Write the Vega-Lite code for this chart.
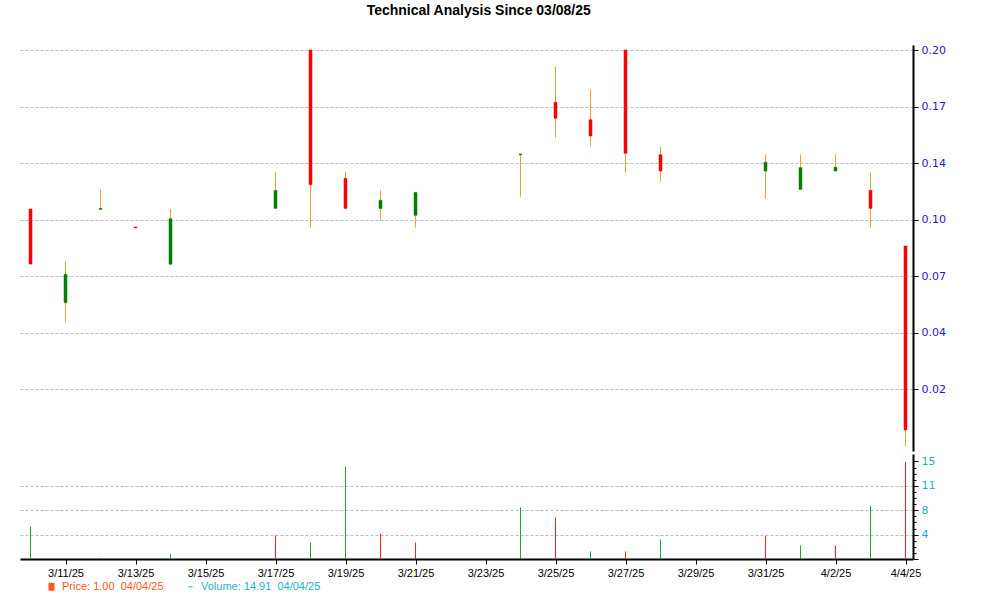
{
  "$schema": "https://vega.github.io/schema/vega-lite/v6.json",
  "background": "white",
  "padding": {"left": 20, "top": 4, "right": 0, "bottom": 0},
  "title": {"text": "Technical Analysis Since 03/08/25", "font": "Liberation Sans", "fontSize": 14, "fontWeight": "bold", "color": "#000000", "anchor": "middle", "offset": 26, "dx": -4},
  "datasets": {
    "candles": [
      {"date": "2025-03-10", "open": 0.1197, "close": 0.0919, "high": 0.1197, "low": 0.0919, "dir": "down"},
      {"date": "2025-03-11", "open": 0.0724, "close": 0.0867, "high": 0.0934, "low": 0.0623, "dir": "up"},
      {"date": "2025-03-12", "open": 0.1195, "close": 0.1200, "high": 0.1293, "low": 0.1195, "dir": "up"},
      {"date": "2025-03-13", "open": 0.1106, "close": 0.1101, "high": 0.1106, "low": 0.1101, "dir": "down"},
      {"date": "2025-03-14", "open": 0.0918, "close": 0.1148, "high": 0.1197, "low": 0.0918, "dir": "up"},
      {"date": "2025-03-17", "open": 0.1200, "close": 0.1291, "high": 0.1384, "low": 0.1200, "dir": "up"},
      {"date": "2025-03-18", "open": 0.2000, "close": 0.1320, "high": 0.2000, "low": 0.1103, "dir": "down"},
      {"date": "2025-03-19", "open": 0.1352, "close": 0.1200, "high": 0.1384, "low": 0.1200, "dir": "down"},
      {"date": "2025-03-20", "open": 0.1200, "close": 0.1241, "high": 0.1291, "low": 0.1140, "dir": "up"},
      {"date": "2025-03-21", "open": 0.1165, "close": 0.1281, "high": 0.1281, "low": 0.1103, "dir": "up"},
      {"date": "2025-03-24", "open": 0.1471, "close": 0.1475, "high": 0.1475, "low": 0.1259, "dir": "up"},
      {"date": "2025-03-25", "open": 0.1736, "close": 0.1655, "high": 0.1914, "low": 0.1557, "dir": "down"},
      {"date": "2025-03-26", "open": 0.1648, "close": 0.1566, "high": 0.1801, "low": 0.1512, "dir": "down"},
      {"date": "2025-03-27", "open": 0.2000, "close": 0.1478, "high": 0.2000, "low": 0.1380, "dir": "down"},
      {"date": "2025-03-28", "open": 0.1471, "close": 0.1389, "high": 0.1510, "low": 0.1335, "dir": "down"},
      {"date": "2025-03-31", "open": 0.1389, "close": 0.1433, "high": 0.1473, "low": 0.1249, "dir": "up"},
      {"date": "2025-04-01", "open": 0.1296, "close": 0.1406, "high": 0.1473, "low": 0.1296, "dir": "up"},
      {"date": "2025-04-02", "open": 0.1389, "close": 0.1408, "high": 0.1473, "low": 0.1389, "dir": "up"},
      {"date": "2025-04-03", "open": 0.1291, "close": 0.1200, "high": 0.1382, "low": 0.1103, "dir": "down"},
      {"date": "2025-04-04", "open": 0.1010, "close": 0.0081, "high": 0.1010, "low": 0.0, "dir": "down"}
    ],
    "volume": [
      {"date": "2025-03-10", "volume": 5.0, "dir": "up"},
      {"date": "2025-03-12", "volume": 0.15, "dir": "down"},
      {"date": "2025-03-14", "volume": 0.8, "dir": "up"},
      {"date": "2025-03-17", "volume": 3.6, "dir": "down"},
      {"date": "2025-03-18", "volume": 2.54, "dir": "up"},
      {"date": "2025-03-19", "volume": 14.2, "dir": "up"},
      {"date": "2025-03-20", "volume": 3.92, "dir": "down"},
      {"date": "2025-03-21", "volume": 2.54, "dir": "down"},
      {"date": "2025-03-24", "volume": 7.92, "dir": "up"},
      {"date": "2025-03-25", "volume": 6.38, "dir": "down"},
      {"date": "2025-03-26", "volume": 1.15, "dir": "up"},
      {"date": "2025-03-27", "volume": 1.15, "dir": "down"},
      {"date": "2025-03-28", "volume": 3.0, "dir": "up"},
      {"date": "2025-03-31", "volume": 3.57, "dir": "down"},
      {"date": "2025-04-01", "volume": 2.08, "dir": "up"},
      {"date": "2025-04-02", "volume": 2.08, "dir": "down"},
      {"date": "2025-04-03", "volume": 8.23, "dir": "up"},
      {"date": "2025-04-04", "volume": 14.91, "dir": "down"}
    ],
    "legend": [
      {"series": "Price: 1.00\u00a0 04/04/25"},
      {"series": "Volume: 14.91\u00a0 04/04/25"}
    ]
  },
  "spacing": 3,
  "vconcat": [
    {
      "width": 893,
      "height": 406,
      "data": {"name": "candles"},
      "encoding": {
        "x": {
          "field": "date", "type": "temporal",
          "scale": {"type": "utc", "padding": 0, "domain": [
            {"year": 2025, "month": 3, "date": 9, "hours": 16, "minutes": 48, "seconds": 0, "utc": true},
            {"year": 2025, "month": 4, "date": 4, "hours": 5, "minutes": 8, "seconds": 34, "utc": true}
          ]},
          "axis": null
        }
      },
      "layer": [
        {
          "mark": {"type": "rule", "color": "#f0a035", "strokeWidth": 1},
          "encoding": {
            "y": {
              "field": "low", "type": "quantitative",
              "scale": {"domain": [-0.00253, 0.20253], "nice": false, "zero": false},
              "axis": {
                "orient": "right",
                "values": [0.0285714, 0.0571429, 0.0857143, 0.1142857, 0.1428571, 0.1714286, 0.2],
                "labelExpr": "['','0.02','0.04','0.07','0.10','0.14','0.17','0.20'][round(datum.value*35)]",
                "title": null,
                "grid": true, "gridColor": "#bbbbbb", "gridDash": [3, 2], "gridWidth": 1,
                "domain": true, "domainColor": "#000000", "domainWidth": 2,
                "ticks": true, "tickColor": "#000000", "tickSize": 5, "tickWidth": 1,
                "labelFont": "DejaVu Sans", "labelFontSize": 11, "labelColor": "#3311cc", "labelPadding": 3
              }
            },
            "y2": {"field": "high"}
          }
        },
        {
          "mark": {"type": "bar", "size": 3, "strokeWidth": 1, "strokeOpacity": 0.5},
          "encoding": {
            "y": {"field": "open", "type": "quantitative"},
            "y2": {"field": "close"},
            "color": {"field": "dir", "type": "nominal", "scale": {"domain": ["up", "down"], "range": ["#008000", "#ff0000"]}, "legend": null},
            "stroke": {"field": "dir", "type": "nominal", "scale": {"domain": ["up", "down"], "range": ["#008000", "#ff0000"]}, "legend": null}
          }
        }
      ]
    },
    {
      "width": 893,
      "height": 105,
      "layer": [
        {
          "data": {"name": "volume"},
          "mark": {"type": "bar", "size": 1},
          "encoding": {
            "x": {
              "field": "date", "type": "temporal",
              "scale": {"type": "utc", "padding": 0, "domain": [
                {"year": 2025, "month": 3, "date": 9, "hours": 16, "minutes": 48, "seconds": 0, "utc": true},
                {"year": 2025, "month": 4, "date": 4, "hours": 5, "minutes": 8, "seconds": 34, "utc": true}
              ]},
              "axis": {
                "title": null,
                "values": [
                  {"year": 2025, "month": 3, "date": 11, "utc": true},
                  {"year": 2025, "month": 3, "date": 13, "utc": true},
                  {"year": 2025, "month": 3, "date": 15, "utc": true},
                  {"year": 2025, "month": 3, "date": 17, "utc": true},
                  {"year": 2025, "month": 3, "date": 19, "utc": true},
                  {"year": 2025, "month": 3, "date": 21, "utc": true},
                  {"year": 2025, "month": 3, "date": 23, "utc": true},
                  {"year": 2025, "month": 3, "date": 25, "utc": true},
                  {"year": 2025, "month": 3, "date": 27, "utc": true},
                  {"year": 2025, "month": 3, "date": 29, "utc": true},
                  {"year": 2025, "month": 3, "date": 31, "utc": true},
                  {"year": 2025, "month": 4, "date": 2, "utc": true},
                  {"year": 2025, "month": 4, "date": 4, "utc": true}
                ],
                "format": "%-m/%-d/%y",
                "grid": false,
                "domainColor": "#000000", "domainWidth": 2,
                "tickColor": "#000000", "tickSize": 5, "tickWidth": 1,
                "labelFont": "Liberation Sans", "labelFontSize": 11, "labelColor": "#000000", "labelPadding": 3,
                "labelFlush": false, "labelOverlap": false
              }
            },
            "y": {
              "field": "volume", "type": "quantitative",
              "scale": {"domain": [0, 16.15], "nice": false, "zero": true},
              "axis": {
                "orient": "right",
                "title": null,
                "values": [0, 0.9375, 1.875, 2.8125, 3.75, 4.6875, 5.625, 6.5625, 7.5, 8.4375, 9.375, 10.3125, 11.25, 12.1875, 13.125, 14.0625, 15],
                "labelExpr": "datum.value > 0 && abs(datum.value/3.75 - round(datum.value/3.75)) < 0.01 ? format(datum.value, '.0f') : ''",
                "grid": true, "gridColor": "#bbbbbb", "gridDash": [3, 2], "gridWidth": 1,
                "gridOpacity": {"condition": {"test": "datum.value > 0 && datum.value < 14 && abs(datum.value/3.75 - round(datum.value/3.75)) < 0.01", "value": 1}, "value": 0},
                "domainColor": "#000000", "domainWidth": 2,
                "tickColor": "#000000", "tickWidth": 1,
                "tickSize": {"condition": {"test": "abs(datum.value/3.75 - round(datum.value/3.75)) < 0.01", "value": 5}, "value": 3},
                "labelFont": "DejaVu Sans", "labelFontSize": 11, "labelColor": "#20b0c0", "labelPadding": 3
              }
            },
            "color": {"field": "dir", "type": "nominal", "scale": {"domain": ["up", "down"], "range": ["#20a040", "#ff2010"]}, "legend": null}
          }
        },
        {
          "data": {"name": "legend"},
          "mark": {"type": "point", "filled": true, "opacity": 0},
          "encoding": {
            "color": {
              "field": "series", "type": "nominal",
              "scale": {"domain": ["Price: 1.00\u00a0 04/04/25", "Volume: 14.91\u00a0 04/04/25"], "range": ["#ff5522", "#20b4c0"]},
              "legend": {
                "title": null, "orient": "none", "legendX": 26, "legendY": 127, "direction": "horizontal",
                "padding": 0, "symbolSize": 64, "symbolOpacity": 1, "labelOffset": 5, "columnPadding": 21,
                "labelFont": "Liberation Sans", "labelFontSize": 11,
                "encode": {
                  "labels": {"update": {"fill": {"signal": "indexof(datum.value, 'Price') === 0 ? '#ff5522' : '#20b4c0'"}}},
                  "symbols": {"update": {
                    "shape": {"signal": "indexof(datum.value, 'Price') === 0 ? 'M-0.75,-1H0.75V1H-0.75Z' : 'M-0.5,-0.125H0.5V0.125H-0.5Z'"},
                    "opacity": {"value": 1}
                  }}
                }
              }
            }
          }
        }
      ],
      "resolve": {"scale": {"color": "independent"}}
    }
  ],
  "config": {
    "view": {"stroke": null}
  }
}
